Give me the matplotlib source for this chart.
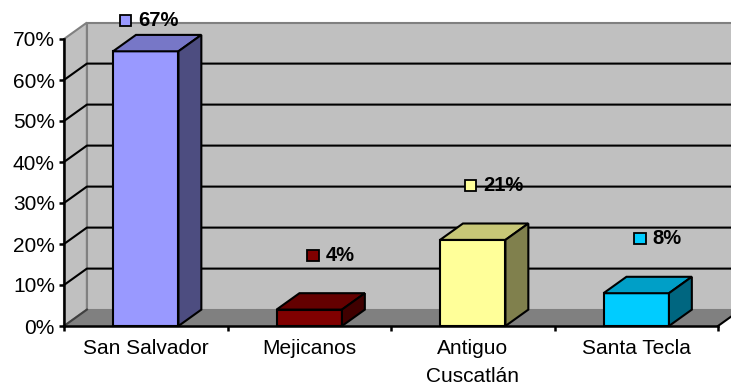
import matplotlib.pyplot as plt
import matplotlib.colors as mcolors
from matplotlib.patches import Polygon, Rectangle
from matplotlib.offsetbox import AnnotationBbox, DrawingArea, HPacker, TextArea

categories = ["San Salvador", "Mejicanos", "Antiguo\nCuscatlán", "Santa Tecla"]
shares = [67, 4, 21, 8]
bar_colors = ["#9999FF", "#800000", "#FFFF99", "#00CCFF"]
y_ticks = [0, 10, 20, 30, 40, 50, 60, 70]

FONT = "Liberation Sans"
DX = 0.14      # depth offset, category units
DY = 4.0       # depth offset, percent units
BAR_W = 0.40
WALL = "#C0C0C0"
FLOOR = "#808080"
LW = 1.5


def shade(color, f):
    r, g, b = mcolors.to_rgb(color)
    return (r * f, g * f, b * f)


fig = plt.figure(figsize=(7.31, 3.87), dpi=100)
ax = fig.add_axes([64 / 731, 61 / 387, 654 / 731, 287 / 387])
n = len(categories)
x0, x1 = -0.5, n - 0.5
ymax = y_ticks[-1]
ax.set_xlim(x0, x1)
ax.set_ylim(0, ymax)
ax.patch.set_visible(False)

# walls and floor
ax.add_patch(Polygon([(x0, 0), (x0, ymax), (x0 + DX, ymax + DY), (x0 + DX, DY)],
                     fc=WALL, ec=FLOOR, lw=LW, clip_on=False, zorder=0))
ax.add_patch(Polygon([(x0 + DX, DY), (x0 + DX, ymax + DY), (x1 + DX, ymax + DY), (x1 + DX, DY)],
                     fc=WALL, ec=FLOOR, lw=LW, clip_on=False, zorder=0))
ax.add_patch(Polygon([(x0, 0), (x1, 0), (x1 + DX, DY), (x0 + DX, DY)],
                     fc=FLOOR, ec="none", clip_on=False, zorder=0.5))
ax.plot([x0, x0 + DX], [0, DY], color="#404040", lw=LW, clip_on=False, zorder=0.6)
ax.plot([x1, x1 + DX], [0, DY], color="black", lw=LW, clip_on=False, zorder=0.6)

# gridlines along left wall and back wall
for v in y_ticks[1:-1]:
    ax.plot([x0, x0 + DX, x1 + DX], [v, v + DY, v + DY], color="black", lw=LW,
            clip_on=False, zorder=1)

# 3D bars
for i, (v, c) in enumerate(zip(shares, bar_colors)):
    l, r = i - BAR_W / 2, i + BAR_W / 2
    ax.add_patch(Rectangle((l, 0), BAR_W, v, fc=c, ec="black", lw=LW, clip_on=False, zorder=3))
    ax.add_patch(Polygon([(l, v), (r, v), (r + DX, v + DY), (l + DX, v + DY)],
                         fc=shade(c, 0.78), ec="black", lw=LW, clip_on=False, zorder=3))
    ax.add_patch(Polygon([(r, 0), (r + DX, DY), (r + DX, v + DY), (r, v)],
                         fc=shade(c, 0.5), ec="black", lw=LW, clip_on=False, zorder=3))

    # value label with legend key
    label_y = v + DY + 9.3
    x_off = DX * 0.95
    if label_y > ymax + 4.6:
        label_y = ymax + 4.6
        x_off = 0.02
    key = DrawingArea(8, 8, 0, 0)
    key.add_artist(Rectangle((0, 0), 8, 8, fc=c, ec="black", lw=1.3))
    txt = TextArea(f"{v}%", textprops=dict(fontsize=14.5, fontweight="bold", family=FONT))
    pack = HPacker(children=[key, txt], align="center", pad=0, sep=5)
    ax.add_artist(AnnotationBbox(pack, (i + x_off, label_y), frameon=False,
                                 box_alignment=(0.5, 0.5), annotation_clip=False, zorder=5))

# axes
for side in ("top", "right"):
    ax.spines[side].set_visible(False)
for side in ("left", "bottom"):
    ax.spines[side].set_linewidth(1.8)
    ax.spines[side].set_zorder(4)

ax.set_yticks(y_ticks, [f"{v}%" for v in y_ticks])
ax.tick_params(axis="y", length=3.5, width=1.8, pad=3, labelsize=15)
ax.set_xticks([k - 0.5 for k in range(n + 1)], [""] * (n + 1))
ax.set_xticks(range(n), categories, minor=True)
ax.tick_params(axis="x", which="major", length=3.5, width=1.8)
ax.tick_params(axis="x", which="minor", length=0, pad=9, labelsize=15)
for lbl in ax.get_xticklabels(minor=True) + ax.get_yticklabels():
    lbl.set_family(FONT)
for lbl in ax.get_xticklabels(minor=True):
    lbl.set_linespacing(1.6)

fig.savefig("out.png", dpi=100)
